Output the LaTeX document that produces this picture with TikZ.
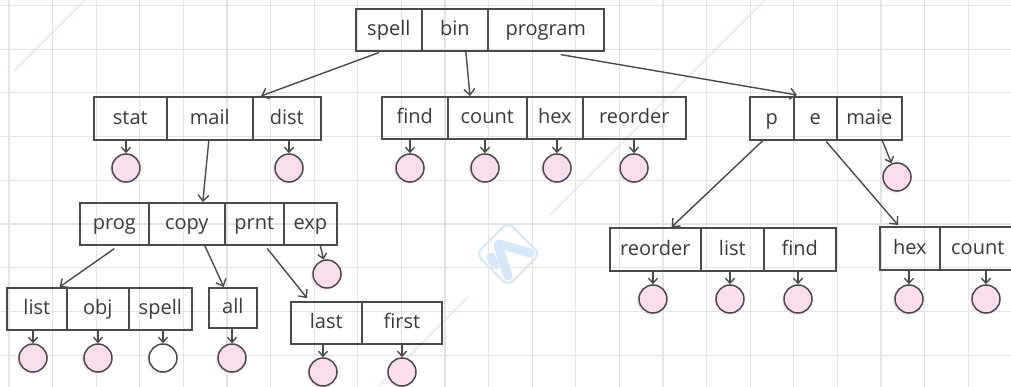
\documentclass[tikz,border=0pt]{standalone}
\usepackage{fontspec}
\setmainfont{Open Sans}
\usetikzlibrary{arrows.meta,calc}
\definecolor{gridc}{HTML}{E4E4E4}
\definecolor{ink}{HTML}{4A4A4A}
\definecolor{txt}{HTML}{3A3A3A}
\definecolor{pinkf}{HTML}{FBDDEE}
\definecolor{pinkh}{HTML}{FCE6F2}
\definecolor{wm}{HTML}{D6E7F5}
\tikzset{
  cellbox/.style={draw=ink, line width=1.6pt, inner sep=0pt, anchor=north west,
    text=txt, font=\fontsize{20}{23}\selectfont, text height=14pt, text depth=2pt},
  leaf/.style={circle, draw=ink, line width=1.5pt, fill=pinkf, minimum size=28pt, inner sep=0pt},
  leafw/.style={circle, draw=ink, line width=1.5pt, fill=white, minimum size=28pt, inner sep=0pt},
  halo/.style={circle, fill=pinkh, minimum size=29pt, inner sep=0pt},
  arr/.style={draw=ink, line width=1.4pt, -{Straight Barb[length=6pt,width=11pt,line width=1.4pt]}},
  sarr/.style={draw=ink, line width=1.4pt, -{Straight Barb[length=5pt,width=9pt,line width=1.4pt]}},
}
\newcommand\mkcell[6]{\node[cellbox, minimum width={(#3-#2)*1pt}, minimum height={(#5-#4)*1pt}] (#1) at (#2,#4) {#6};}
\newcommand\mkleaf[4][leaf]{\node[halo] at ($(#3,#4)+(-1.5,1.5)$) {}; \node[#1] (#2) at (#3,#4) {};}
\begin{document}
\begin{tikzpicture}[x=1pt,y=-1pt]
\clip (0,0) rectangle (1011,387);
\fill[white] (0,0) rectangle (1011,387);
% grid
\foreach \k in {0,...,23} \draw[gridc, line width=1.1pt] ({9+43.6*\k},0) -- ({9+43.6*\k},387);
\foreach \k in {0,...,8} \draw[gridc, line width=1.1pt] (0,{5.5+43.7*\k}) -- (1011,{5.5+43.7*\k});
% watermark
\draw[wm, line width=1.2pt] (14,71) -- (85,0);
\draw[wm, line width=1.2pt] (550,215) -- (765,0);
\draw[wm, line width=1.2pt] (468,297) -- (380,385);
\node[draw=wm, line width=2.2pt, rounded corners=7pt, minimum size=45pt, rotate=45] (logo) at (508,254) {};
\draw[wm, line width=9pt, line cap=round] (498,245) -- (508,276);
\draw[wm, line width=9pt, line cap=round] (500,244) -- (530,253);
\draw[wm, line width=9pt, line cap=round] (491,257) -- (495,265);
% root
\mkcell{r1}{355}{421}{8}{50}{spell}
\mkcell{r2}{421}{487}{8}{50}{bin}
\mkcell{r3}{487}{603}{8}{50}{program}
% level 1
\mkcell{a1}{93}{166}{96}{139}{stat}
\mkcell{a2}{166}{252}{96}{139}{mail}
\mkcell{a3}{252}{320}{96}{139}{dist}
\mkcell{b1}{381}{447}{96}{138}{find}
\mkcell{b2}{447}{526}{96}{138}{count}
\mkcell{b3}{526}{582}{96}{138}{hex}
\mkcell{b4}{582}{685}{96}{138}{reorder}
\mkcell{c1}{749}{793}{96}{139}{p}
\mkcell{c2}{793}{836}{96}{139}{e}
\mkcell{c3}{836}{901}{96}{139}{maie}
% level 2
\mkcell{d1}{79}{148}{202}{244}{prog}
\mkcell{d2}{148}{224}{202}{244}{copy}
\mkcell{d3}{224}{283}{202}{244}{prnt}
\mkcell{d4}{283}{336}{202}{244}{exp}
\mkcell{h1}{609}{700}{227}{270}{reorder}
\mkcell{h2}{700}{763}{227}{270}{list}
\mkcell{h3}{763}{835}{227}{270}{find}
\mkcell{i1}{879}{939}{226}{269}{hex}
\mkcell{i2}{939}{1015}{226}{269}{count}
% level 3
\mkcell{e1}{6}{66}{287}{329}{list}
\mkcell{e2}{66}{128}{287}{329}{obj}
\mkcell{e3}{128}{191}{287}{329}{spell}
\mkcell{f1}{208}{256}{287}{327}{all}
\mkcell{g1}{290}{361}{301}{343}{last}
\mkcell{g2}{361}{441}{301}{343}{first}
% leaves
\mkleaf{la1}{126}{168}
\mkleaf{la3}{289}{168}
\mkleaf{lb1}{410}{168}
\mkleaf{lb2}{485}{168}
\mkleaf{lb3}{557}{168}
\mkleaf{lb4}{634}{168}
\mkleaf{lc3}{897}{177}
\mkleaf{ld4}{327}{274}
\mkleaf{le1}{33}{358}
\mkleaf{le2}{98}{358}
\mkleaf[leafw]{le3}{163}{358}
\mkleaf{lf1}{232}{358}
\mkleaf{lg1}{323}{372}
\mkleaf{lg2}{402}{372}
\mkleaf{lh1}{653}{299}
\mkleaf{lh2}{730}{299}
\mkleaf{lh3}{798}{299}
\mkleaf{li1}{909}{299}
\mkleaf{li2}{986}{299}
% big arrows
\draw[arr] ($(r1.south)+(-10,1)$) -- ($(a3.north west)+(9,0)$);
\draw[arr] ($(r2.south)+(11,0)$) -- ($(b2.north west)+(23,0)$);
\draw[arr] ($(r3.south)+(15,3)$) -- ($(c2.north west)+(4,-1)$);
\draw[arr] ($(a2.south)+(-1,0)$) -- ($(d2.north)+(16,0)$);
\draw[arr] ($(d1.south)+(0,3)$) -- ($(e1.north east)+(-8,0)$);
\draw[arr] ($(d2.south)+(18,0)$) -- ($(f1.north)+(-9,0)$);
\draw[arr] ($(d3.south)+(13,3)$) -- ($(g1.north west)+(17,-3)$);
\draw[arr] ($(c1.south)+(-9,0)$) -- ($(h1.north east)+(-30,0)$);
\draw[arr] ($(c2.south)+(11,1)$) -- ($(i1.north west)+(19,-1)$);
% small arrows
\draw[sarr] ($(d4.south)+(10,0)$) -- (ld4);
\draw[sarr] ($(c3.south)+(13,0)$) -- (lc3);
\foreach \c/\l in {a1/la1,a3/la3,b1/lb1,b2/lb2,b3/lb3,b4/lb4,e1/le1,e2/le2,e3/le3,f1/lf1,g1/lg1,g2/lg2,h1/lh1,h2/lh2,h3/lh3,i1/li1,i2/li2}
  \draw[sarr] (\c.south -| \l) -- (\l.north);
\end{tikzpicture}
\end{document}
